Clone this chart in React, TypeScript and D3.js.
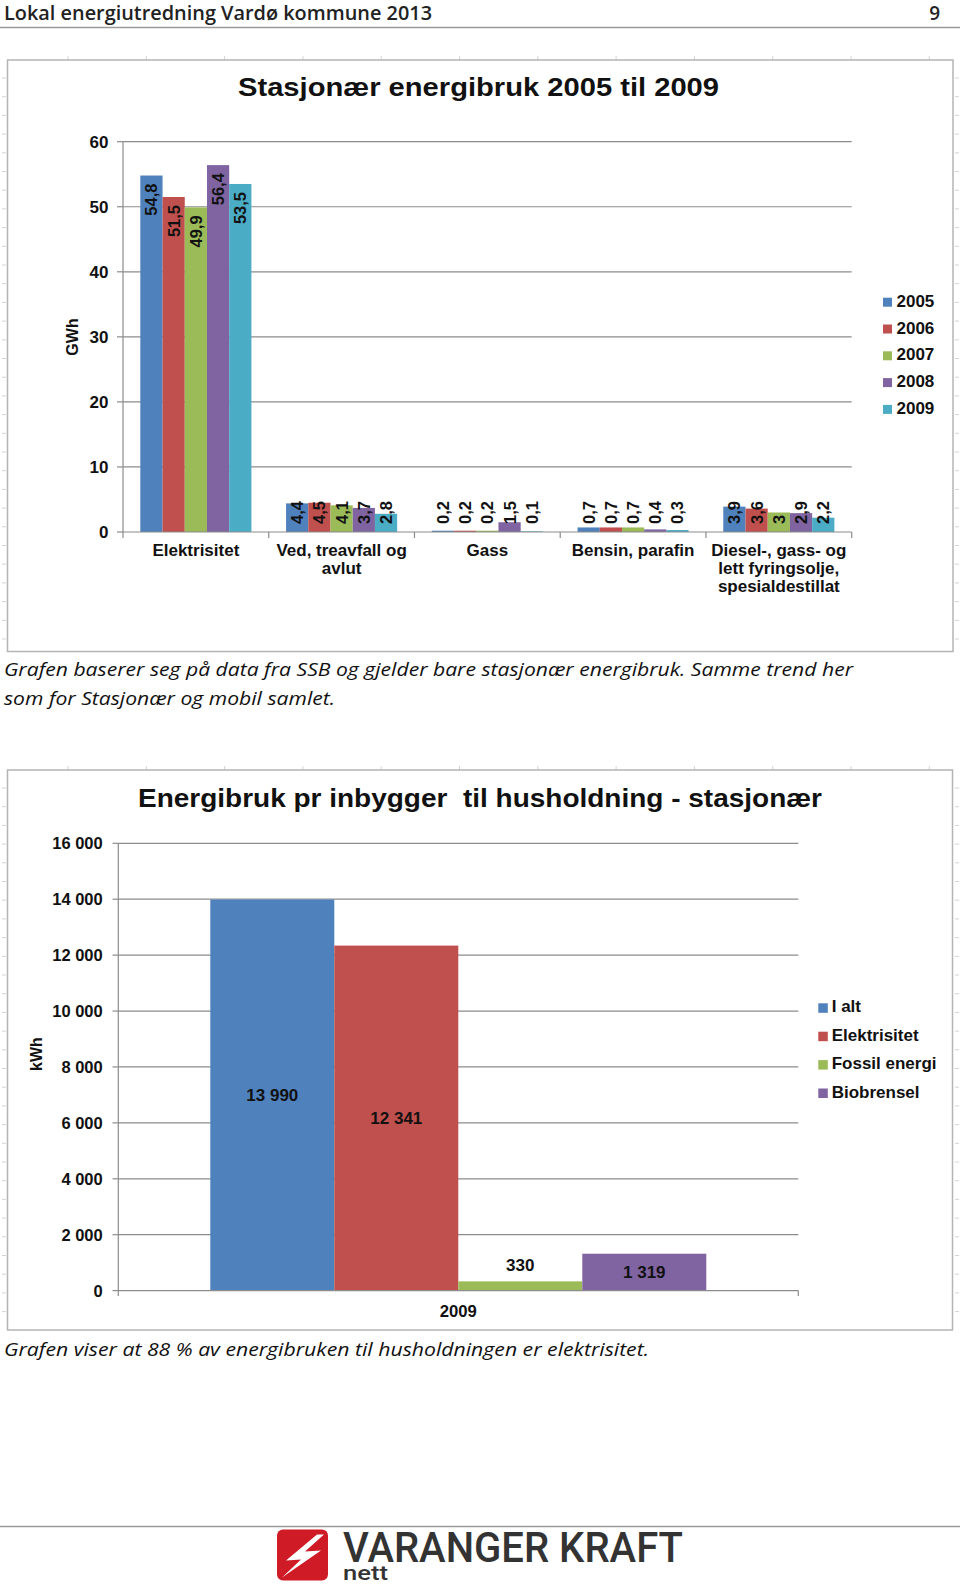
import React, { useMemo } from "react";
import * as d3 from "d3";

// ---------- DATA ----------
const categories1 = [
  "Elektrisitet",
  "Ved, treavfall og avlut",
  "Gass",
  "Bensin, parafin",
  "Diesel-, gass- og lett fyringsolje, spesialdestillat",
];
const years1 = ["2005", "2006", "2007", "2008", "2009"];
const values2005 = [54.8, 4.4, 0.2, 0.7, 3.9];
const values2006 = [51.5, 4.5, 0.2, 0.7, 3.6];
const values2007 = [49.9, 4.1, 0.2, 0.7, 3.0];
const values2008 = [56.4, 3.7, 1.5, 0.4, 2.9];
const values2009 = [53.5, 2.8, 0.1, 0.3, 2.2];
const yTicks1 = [0, 10, 20, 30, 40, 50, 60];

const categories2 = ["2009"];
const series2 = ["I alt", "Elektrisitet", "Fossil energi", "Biobrensel"];
const values2 = [13990, 12341, 330, 1319];
const yTicks2 = [0, 2000, 4000, 6000, 8000, 10000, 12000, 14000, 16000];

const title1 = "Stasjonær energibruk 2005 til 2009";
const title2 = "Energibruk pr inbygger  til husholdning - stasjonær";
const headerText = "Lokal energiutredning Vardø kommune 2013";
const pageNumber = "9";
const caption1a = "Grafen baserer seg på data fra SSB og gjelder bare stasjonær energibruk. Samme trend her";
const caption1b = "som for Stasjonær og mobil samlet.";
const caption2 = "Grafen viser at 88 % av energibruken til husholdningen er elektrisitet.";

// ---------- STYLE ----------
const COLORS = ["#4F81BD", "#C0504D", "#9BBB59", "#8064A2", "#4BACC6"];
const AXIS_FONT = "'Liberation Sans', Arial, sans-serif";
const GRID = "#8c8c8c";

const nb = d3.formatLocale({ decimal: ",", thousands: " ", grouping: [3], currency: ["", " kr"] });
const fmtDec = nb.format("~g");
const fmtInt = nb.format(",");

function wrapLabel(text: string, maxW: number, font: string): string[] {
  const c = document.createElement("canvas").getContext("2d");
  if (!c) return [text];
  c.font = font;
  const words = text.split(" ");
  const lines: string[] = [];
  let cur = "";
  for (const w of words) {
    const t = cur ? cur + " " + w : w;
    if (c.measureText(t).width > maxW && cur) {
      lines.push(cur);
      cur = w;
    } else cur = t;
  }
  if (cur) lines.push(cur);
  return lines;
}

function PageTicks({ x0, x1, y0, y1 }: { x0: number; x1: number; y0: number; y1: number }) {
  const tops = d3.range(68, x1, 78.3);
  const sides = d3.range(y0 + 18, y1, 18.7);
  return (
    <g stroke="#d4d4d4" strokeWidth={1}>
      {tops.map((x, i) => (
        <line key={"t" + i} x1={x} x2={x} y1={y0 - 4} y2={y0} />
      ))}
      {sides.map((y, i) => (
        <line key={"l" + i} x1={2} x2={6} y1={y} y2={y} />
      ))}
      {sides.map((y, i) => (
        <line key={"r" + i} x1={955} x2={959} y1={y} y2={y} />
      ))}
    </g>
  );
}

function Chart1() {
  const series = [values2005, values2006, values2007, values2008, values2009];
  const x = d3.scaleBand<string>().domain(categories1).range([123, 851.7]).padding(0);
  const xi = d3
    .scaleBand<string>()
    .domain(years1)
    .range([0, x.bandwidth()])
    .paddingInner(0)
    .paddingOuter(0.78);
  const y = d3.scaleLinear().domain([0, 60]).range([532, 141.7]);
  const labelFont = `bold 17px ${AXIS_FONT}`;
  const wrapped = useMemo(() => categories1.map((c) => wrapLabel(c, 146, labelFont)), []);

  return (
    <g>
      <rect x={7.5} y={60} width={945.5} height={591.5} fill="#fff" stroke="#b4b4b4" strokeWidth={1.5} />
      <text
        x={478.5}
        y={96}
        textAnchor="middle"
        fontFamily={AXIS_FONT}
        fontWeight="bold"
        fontSize={25}
        textLength={481}
        lengthAdjust="spacingAndGlyphs"
        fill="#111"
      >
        {title1}
      </text>
      {/* gridlines */}
      {yTicks1
        .filter((t) => t > 0)
        .map((t) => (
          <line key={t} x1={123} x2={851.7} y1={y(t)} y2={y(t)} stroke={GRID} strokeWidth={1.2} />
        ))}
      {/* y ticks */}
      {yTicks1.map((t) => (
        <g key={"yt" + t}>
          <line x1={117} x2={123} y1={y(t)} y2={y(t)} stroke={GRID} strokeWidth={1.2} />
          <text
            x={108.5}
            y={y(t)}
            dy="0.36em"
            textAnchor="end"
            fontFamily={AXIS_FONT}
            fontWeight="bold"
            fontSize={17}
            fill="#111"
          >
            {fmtDec(t)}
          </text>
        </g>
      ))}
      <text
        transform={`translate(78,337) rotate(-90)`}
        textAnchor="middle"
        fontFamily={AXIS_FONT}
        fontWeight="bold"
        fontSize={16}
        fill="#111"
      >
        GWh
      </text>
      {/* bars */}
      {categories1.map((c, ci) => (
        <g key={c} transform={`translate(${x(c)},0)`}>
          {years1.map((yr, si) => {
            const v = series[si][ci];
            const bx = xi(yr)!;
            const top = y(v);
            return (
              <rect key={yr} x={bx} y={top} width={xi.bandwidth()} height={y(0) - top} fill={COLORS[si]} />
            );
          })}
        </g>
      ))}
      {/* axes */}
      <line x1={123} x2={123} y1={141.7} y2={532} stroke={GRID} strokeWidth={1.2} />
      <line x1={123} x2={851.7} y1={532} y2={532} stroke={GRID} strokeWidth={1.2} />
      {[...categories1.map((c) => x(c)!), 851.7].map((px, i) => (
        <line key={"xt" + i} x1={px} x2={px} y1={532} y2={538} stroke={GRID} strokeWidth={1.2} />
      ))}
      {/* data labels */}
      {categories1.map((c, ci) => (
        <g key={"lab" + c} transform={`translate(${x(c)},0)`}>
          {years1.map((yr, si) => {
            const v = series[si][ci];
            const cx = xi(yr)! + xi.bandwidth() / 2;
            const top = y(v);
            const h = y(0) - top;
            const inside = h > 60;
            const ay = inside ? top + 8 : y(0) - 8;
            return (
              <text
                key={yr}
                transform={`translate(${cx},${ay}) rotate(-90)`}
                textAnchor={inside ? "end" : "start"}
                dy="0.36em"
                fontFamily={AXIS_FONT}
                fontWeight="bold"
                fontSize={16.5}
                fill="#111"
              >
                {fmtDec(v)}
              </text>
            );
          })}
        </g>
      ))}
      {/* category labels */}
      {categories1.map((c, ci) => (
        <text
          key={"cl" + c}
          x={x(c)! + x.bandwidth() / 2}
          y={555.5}
          textAnchor="middle"
          fontFamily={AXIS_FONT}
          fontWeight="bold"
          fontSize={17}
          fill="#111"
        >
          {wrapped[ci].map((ln, li) => (
            <tspan key={li} x={x(c)! + x.bandwidth() / 2} dy={li === 0 ? 0 : 18}>
              {ln}
            </tspan>
          ))}
        </text>
      ))}
      {/* legend */}
      {years1.map((yr, i) => {
        const by = 306.7 + i * 26.8;
        return (
          <g key={"lg" + yr}>
            <rect x={883} y={by - 9} width={9} height={9} fill={COLORS[i]} />
            <text x={896.5} y={by} fontFamily={AXIS_FONT} fontWeight="bold" fontSize={17} fill="#111">
              {yr}
            </text>
          </g>
        );
      })}
    </g>
  );
}

function Chart2() {
  const x = d3.scaleBand<string>().domain(categories2).range([118.3, 798.3]).padding(0);
  const xi = d3
    .scaleBand<string>()
    .domain(series2)
    .range([0, x.bandwidth()])
    .paddingInner(0)
    .paddingOuter(0.742);
  const y = d3.scaleLinear().domain([0, 16000]).range([1290.6, 843.3]);
  return (
    <g>
      <rect x={7.5} y={770} width={945} height={560} fill="#fff" stroke="#b4b4b4" strokeWidth={1.5} />
      <text
        x={480}
        y={806.7}
        textAnchor="middle"
        fontFamily={AXIS_FONT}
        fontWeight="bold"
        fontSize={25}
        textLength={684}
        lengthAdjust="spacingAndGlyphs"
        fill="#111"
        style={{ whiteSpace: "pre" }}
      >
        {title2}
      </text>
      {yTicks2
        .filter((t) => t > 0)
        .map((t) => (
          <line key={t} x1={118.3} x2={798.3} y1={y(t)} y2={y(t)} stroke={GRID} strokeWidth={1.2} />
        ))}
      {yTicks2.map((t) => (
        <g key={"yt" + t}>
          <line x1={112.5} x2={118.3} y1={y(t)} y2={y(t)} stroke={GRID} strokeWidth={1.2} />
          <text
            x={102.7}
            y={y(t)}
            dy="0.36em"
            textAnchor="end"
            fontFamily={AXIS_FONT}
            fontWeight="bold"
            fontSize={16.5}
            fill="#111"
          >
            {fmtInt(t)}
          </text>
        </g>
      ))}
      <text
        transform={`translate(42,1054) rotate(-90)`}
        textAnchor="middle"
        fontFamily={AXIS_FONT}
        fontWeight="bold"
        fontSize={16}
        fill="#111"
      >
        kWh
      </text>
      {categories2.map((c) => (
        <g key={c} transform={`translate(${x(c)},0)`}>
          {series2.map((s, i) => {
            const top = y(values2[i]);
            return (
              <rect key={s} x={xi(s)} y={top} width={xi.bandwidth()} height={y(0) - top} fill={COLORS[i]} />
            );
          })}
          {series2.map((s, i) => {
            const top = y(values2[i]);
            const h = y(0) - top;
            const cy = h > 24 ? top + h / 2 : top - 16.5;
            return (
              <text
                key={"l" + s}
                x={xi(s)! + xi.bandwidth() / 2}
                y={cy}
                dy="0.36em"
                textAnchor="middle"
                fontFamily={AXIS_FONT}
                fontWeight="bold"
                fontSize={17}
                fill="#111"
              >
                {fmtInt(values2[i])}
              </text>
            );
          })}
          <text
            x={x.bandwidth() / 2}
            y={1316.7}
            textAnchor="middle"
            fontFamily={AXIS_FONT}
            fontWeight="bold"
            fontSize={16.7}
            fill="#111"
          >
            {c}
          </text>
        </g>
      ))}
      <line x1={118.3} x2={118.3} y1={843.3} y2={1296} stroke={GRID} strokeWidth={1.2} />
      <line x1={118.3} x2={798.3} y1={1290.6} y2={1290.6} stroke={GRID} strokeWidth={1.2} />
      <line x1={798.3} x2={798.3} y1={1290.6} y2={1296} stroke={GRID} strokeWidth={1.2} />
      {series2.map((s, i) => {
        const by = 1012.3 + i * 28.4;
        return (
          <g key={"lg" + s}>
            <rect x={818.3} y={by - 9} width={9.5} height={9.5} fill={COLORS[i]} />
            <text x={831.7} y={by} fontFamily={AXIS_FONT} fontWeight="bold" fontSize={17} fill="#111">
              {s}
            </text>
          </g>
        );
      })}
    </g>
  );
}

function Logo() {
  const sx = 277;
  const sy = 1529.5;
  const bolt = [
    [40, 5],
    [9, 31],
    [24, 30],
    [5, 48],
    [44, 21],
    [28, 22],
    [47, 5],
  ]
    .map(([a, b]) => `${sx + a},${sy + b}`)
    .join(" ");
  return (
    <g>
      <rect x={sx} y={sy} width={51} height={51} rx={6} fill="#cf1b25" />
      <polygon points={bolt} fill="#fff" />
      <text
        x={343}
        y={1561.7}
        fontFamily="Roboto, 'DejaVu Sans', sans-serif"
        fontWeight={500}
        fontSize={42}
        textLength={340}
        lengthAdjust="spacingAndGlyphs"
        fill="#333"
      >
        VARANGER KRAFT
      </text>
      <text
        x={343}
        y={1580}
        fontFamily="Roboto, 'DejaVu Sans', sans-serif"
        fontWeight={500}
        fontSize={20}
        textLength={45}
        lengthAdjust="spacingAndGlyphs"
        fill="#333"
      >
        nett
      </text>
    </g>
  );
}

export default function App() {
  const captionFont = "'Open Sans', 'Noto Sans', sans-serif";
  return (
    <svg
      width={960}
      height={1586}
      viewBox="0 0 960 1586"
      style={{ position: "absolute", left: 0, top: 0, background: "#fff" }}
    >
      <rect x={0} y={0} width={960} height={1586} fill="#fff" />
      <text
        x={4}
        y={19.5}
        fontFamily={captionFont}
        fontWeight={600}
        fontSize={19}
        textLength={428}
        lengthAdjust="spacingAndGlyphs"
        fill="#222"
      >
        {headerText}
      </text>
      <text x={940} y={19.5} textAnchor="end" fontFamily={captionFont} fontWeight={600} fontSize={19} fill="#222">
        {pageNumber}
      </text>
      <line x1={0} x2={960} y1={27.5} y2={27.5} stroke="#9a9a9a" strokeWidth={1.5} />

      <PageTicks x0={0} x1={960} y0={60} y1={651} />
      <Chart1 />

      <text
        x={4}
        y={675.5}
        fontFamily={captionFont}
        fontStyle="italic"
        fontSize={19}
        textLength={849}
        lengthAdjust="spacingAndGlyphs"
        fill="#111"
      >
        {caption1a}
      </text>
      <text
        x={4}
        y={704.5}
        fontFamily={captionFont}
        fontStyle="italic"
        fontSize={19}
        textLength={331}
        lengthAdjust="spacingAndGlyphs"
        fill="#111"
      >
        {caption1b}
      </text>

      <PageTicks x0={0} x1={960} y0={770} y1={1330} />
      <Chart2 />

      <text
        x={4}
        y={1356}
        fontFamily={captionFont}
        fontStyle="italic"
        fontSize={19}
        textLength={645}
        lengthAdjust="spacingAndGlyphs"
        fill="#111"
      >
        {caption2}
      </text>

      <line x1={0} x2={960} y1={1526.5} y2={1526.5} stroke="#9a9a9a" strokeWidth={1.5} />
      <Logo />
    </svg>
  );
}
